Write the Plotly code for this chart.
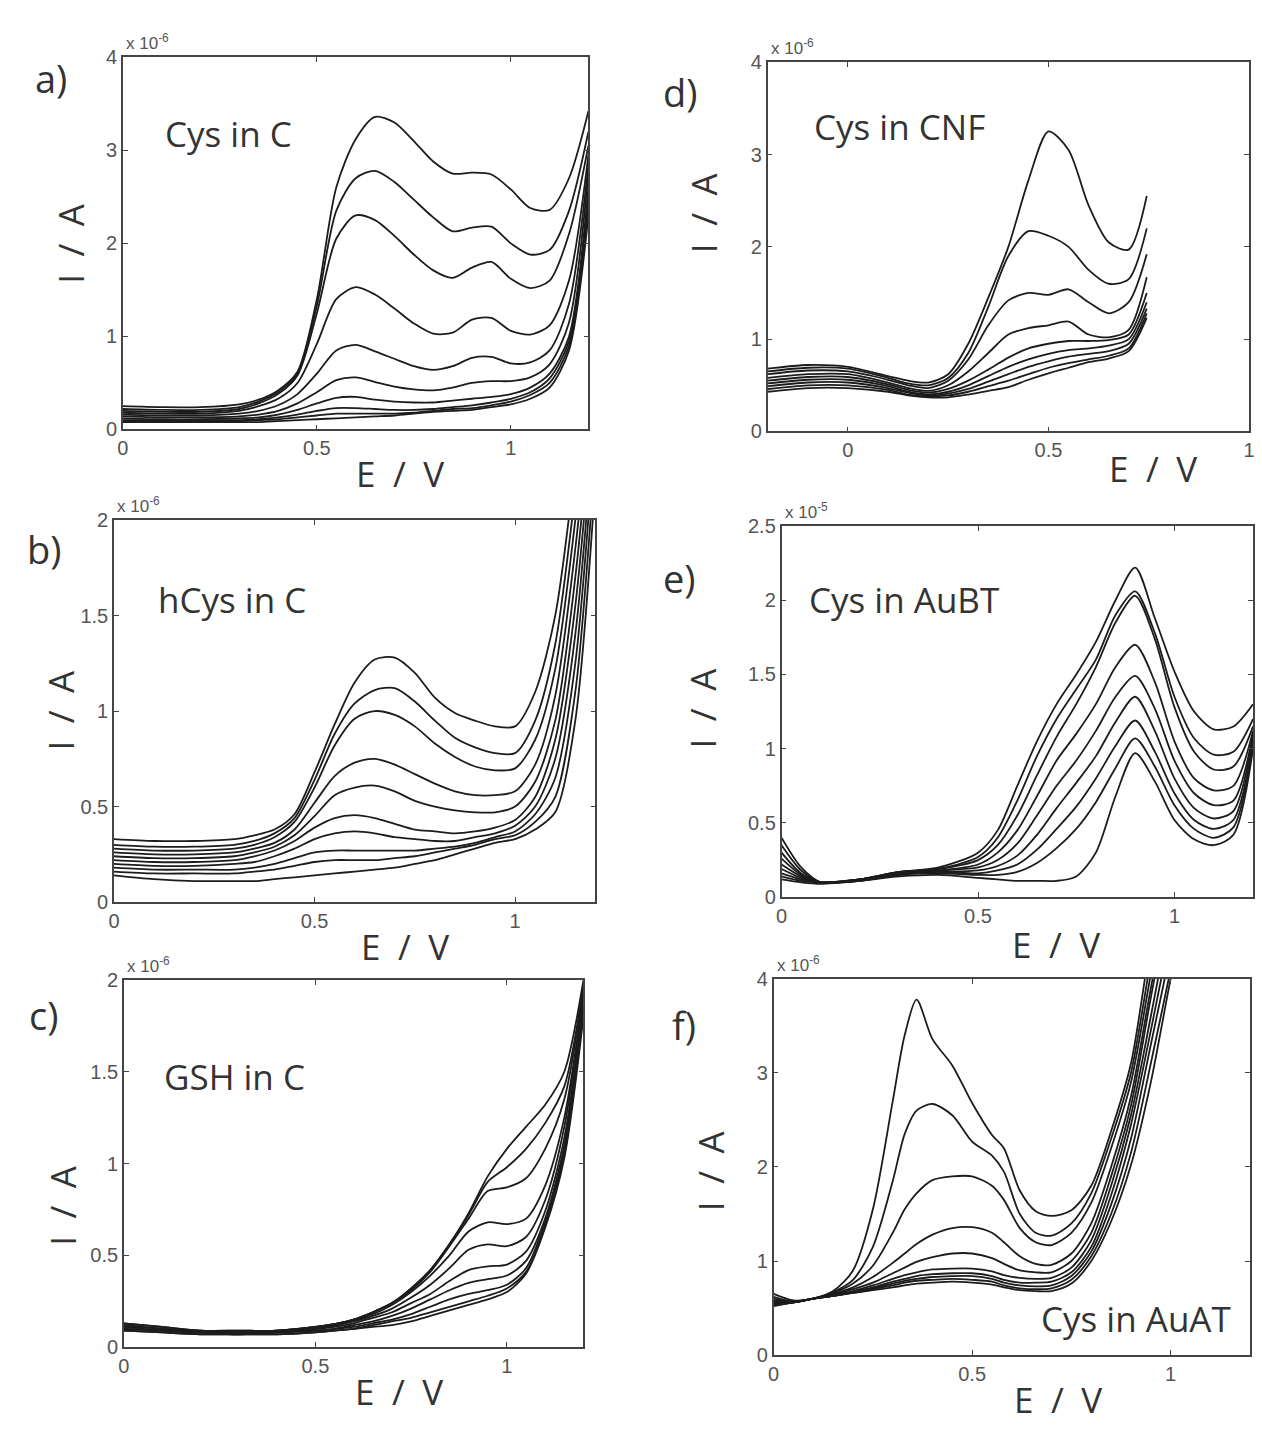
import plotly.graph_objects as go

W, H = 1262, 1433

# ---------------- data (currents in units of the axis multiplier) ----------------
# Panel a: Cys in C  (x 1e-6 A)
E_A = [0, 0.1, 0.2, 0.3, 0.35, 0.4, 0.45, 0.5, 0.55, 0.6, 0.65, 0.7, 0.75, 0.8, 0.85, 0.9, 0.95, 1.0, 1.05, 1.1, 1.15, 1.2]
CURVES_A = [
    [0.25, 0.24, 0.24, 0.27, 0.32, 0.42, 0.62, 1.40, 2.60, 3.12, 3.36, 3.30, 3.10, 2.88, 2.75, 2.76, 2.74, 2.58, 2.38, 2.36, 2.70, 3.42],
    [0.22, 0.21, 0.21, 0.24, 0.30, 0.40, 0.60, 1.33, 2.35, 2.70, 2.78, 2.66, 2.47, 2.28, 2.13, 2.17, 2.18, 2.00, 1.88, 1.93, 2.35, 3.20],
    [0.20, 0.19, 0.19, 0.22, 0.28, 0.38, 0.58, 1.25, 2.05, 2.30, 2.25, 2.08, 1.88, 1.71, 1.63, 1.74, 1.80, 1.62, 1.52, 1.60, 2.10, 3.05],
    [0.18, 0.17, 0.17, 0.20, 0.25, 0.33, 0.50, 0.92, 1.40, 1.53, 1.45, 1.30, 1.14, 1.03, 1.04, 1.18, 1.20, 1.06, 1.02, 1.12, 1.60, 2.95],
    [0.16, 0.15, 0.15, 0.17, 0.20, 0.26, 0.38, 0.60, 0.85, 0.91, 0.84, 0.76, 0.68, 0.64, 0.68, 0.77, 0.78, 0.71, 0.72, 0.85, 1.35, 2.85],
    [0.14, 0.13, 0.13, 0.14, 0.16, 0.20, 0.28, 0.40, 0.53, 0.56, 0.51, 0.46, 0.43, 0.42, 0.45, 0.50, 0.52, 0.52, 0.56, 0.70, 1.15, 2.75],
    [0.12, 0.11, 0.11, 0.12, 0.13, 0.16, 0.21, 0.28, 0.34, 0.35, 0.32, 0.30, 0.29, 0.29, 0.31, 0.33, 0.35, 0.38, 0.45, 0.60, 1.00, 2.60],
    [0.10, 0.10, 0.10, 0.10, 0.11, 0.13, 0.16, 0.20, 0.23, 0.23, 0.22, 0.21, 0.21, 0.22, 0.24, 0.26, 0.29, 0.33, 0.40, 0.55, 0.95, 2.50],
    [0.09, 0.09, 0.09, 0.09, 0.10, 0.11, 0.13, 0.15, 0.17, 0.17, 0.17, 0.17, 0.18, 0.20, 0.22, 0.23, 0.26, 0.30, 0.37, 0.50, 0.90, 2.40],
    [0.08, 0.08, 0.08, 0.08, 0.08, 0.09, 0.10, 0.11, 0.12, 0.13, 0.14, 0.15, 0.17, 0.19, 0.20, 0.21, 0.24, 0.27, 0.33, 0.45, 0.85, 2.30],
]

# Panel b: hCys in C  (x 1e-6 A)
E_B = [0, 0.1, 0.2, 0.3, 0.35, 0.4, 0.45, 0.5, 0.55, 0.6, 0.65, 0.7, 0.75, 0.8, 0.85, 0.9, 0.95, 1.0, 1.05, 1.1, 1.15, 1.2]
CURVES_B = [
    [0.33, 0.32, 0.32, 0.33, 0.35, 0.38, 0.46, 0.68, 0.93, 1.15, 1.27, 1.28, 1.20, 1.07, 0.99, 0.95, 0.92, 0.92, 1.10, 1.50, 2.30, 3.40],
    [0.30, 0.29, 0.29, 0.30, 0.32, 0.36, 0.44, 0.64, 0.88, 1.04, 1.11, 1.12, 1.05, 0.95, 0.86, 0.81, 0.78, 0.78, 0.95, 1.35, 2.15, 3.20],
    [0.28, 0.27, 0.27, 0.28, 0.30, 0.34, 0.42, 0.60, 0.82, 0.96, 1.00, 0.98, 0.92, 0.83, 0.76, 0.71, 0.69, 0.70, 0.85, 1.22, 2.00, 3.00],
    [0.26, 0.25, 0.25, 0.26, 0.28, 0.31, 0.38, 0.52, 0.66, 0.73, 0.75, 0.72, 0.67, 0.62, 0.58, 0.56, 0.56, 0.58, 0.72, 1.08, 1.85, 2.90],
    [0.24, 0.23, 0.23, 0.24, 0.26, 0.29, 0.35, 0.45, 0.56, 0.60, 0.61, 0.58, 0.53, 0.50, 0.48, 0.47, 0.47, 0.50, 0.63, 0.95, 1.70, 2.80],
    [0.22, 0.21, 0.21, 0.22, 0.24, 0.27, 0.32, 0.39, 0.44, 0.455, 0.44, 0.41, 0.38, 0.37, 0.36, 0.37, 0.39, 0.43, 0.55, 0.85, 1.55, 2.70],
    [0.20, 0.19, 0.19, 0.20, 0.21, 0.24, 0.28, 0.33, 0.36, 0.37, 0.36, 0.34, 0.33, 0.32, 0.32, 0.34, 0.36, 0.40, 0.50, 0.75, 1.40, 2.60],
    [0.18, 0.17, 0.17, 0.17, 0.18, 0.20, 0.23, 0.26, 0.27, 0.27, 0.27, 0.27, 0.27, 0.28, 0.29, 0.31, 0.34, 0.37, 0.46, 0.65, 1.25, 2.50],
    [0.16, 0.15, 0.15, 0.15, 0.16, 0.17, 0.19, 0.21, 0.22, 0.22, 0.22, 0.23, 0.24, 0.26, 0.28, 0.30, 0.33, 0.35, 0.42, 0.55, 1.10, 2.35],
    [0.14, 0.12, 0.11, 0.11, 0.11, 0.12, 0.13, 0.14, 0.15, 0.16, 0.17, 0.18, 0.20, 0.22, 0.25, 0.28, 0.31, 0.33, 0.38, 0.47, 0.95, 2.20],
]

# Panel c: GSH in C  (x 1e-6 A)
E_C = [0, 0.1, 0.2, 0.3, 0.4, 0.5, 0.55, 0.6, 0.65, 0.7, 0.75, 0.8, 0.85, 0.9, 0.95, 1.0, 1.05, 1.1, 1.15, 1.2]
CURVES_C = [
    [0.13, 0.11, 0.09, 0.09, 0.09, 0.11, 0.125, 0.15, 0.19, 0.24, 0.32, 0.42, 0.56, 0.73, 0.93, 1.08, 1.20, 1.32, 1.50, 2.00],
    [0.13, 0.11, 0.09, 0.09, 0.09, 0.11, 0.125, 0.15, 0.19, 0.24, 0.32, 0.42, 0.56, 0.72, 0.90, 0.98, 1.08, 1.22, 1.42, 1.97],
    [0.12, 0.10, 0.09, 0.08, 0.09, 0.11, 0.125, 0.15, 0.19, 0.24, 0.31, 0.41, 0.55, 0.70, 0.85, 0.87, 0.92, 1.08, 1.35, 1.95],
    [0.12, 0.10, 0.08, 0.08, 0.09, 0.10, 0.12, 0.145, 0.18, 0.23, 0.30, 0.39, 0.50, 0.63, 0.68, 0.67, 0.70, 0.88, 1.25, 1.92],
    [0.11, 0.10, 0.08, 0.08, 0.08, 0.10, 0.115, 0.14, 0.17, 0.21, 0.27, 0.34, 0.43, 0.53, 0.56, 0.55, 0.60, 0.80, 1.20, 1.90],
    [0.11, 0.09, 0.08, 0.08, 0.08, 0.10, 0.11, 0.13, 0.16, 0.19, 0.24, 0.29, 0.36, 0.42, 0.44, 0.45, 0.52, 0.74, 1.14, 1.88],
    [0.10, 0.09, 0.08, 0.07, 0.08, 0.09, 0.10, 0.12, 0.14, 0.17, 0.21, 0.26, 0.31, 0.35, 0.37, 0.39, 0.47, 0.70, 1.10, 1.86],
    [0.10, 0.09, 0.08, 0.07, 0.08, 0.09, 0.10, 0.11, 0.13, 0.15, 0.18, 0.22, 0.26, 0.29, 0.31, 0.34, 0.43, 0.68, 1.07, 1.85],
    [0.09, 0.08, 0.07, 0.07, 0.07, 0.08, 0.09, 0.10, 0.12, 0.14, 0.16, 0.19, 0.22, 0.25, 0.28, 0.32, 0.41, 0.66, 1.05, 1.83],
    [0.09, 0.08, 0.07, 0.07, 0.07, 0.08, 0.09, 0.10, 0.11, 0.12, 0.14, 0.17, 0.20, 0.23, 0.26, 0.30, 0.40, 0.65, 1.03, 1.80],
]

# Panel d: Cys in CNF  (x 1e-6 A)
E_D = [-0.2, -0.1, 0.0, 0.1, 0.15, 0.2, 0.25, 0.3, 0.35, 0.4, 0.45, 0.5, 0.55, 0.6, 0.65, 0.7, 0.745]
CURVES_D = [
    [0.68, 0.72, 0.70, 0.60, 0.55, 0.53, 0.62, 0.95, 1.45, 2.00, 2.72, 3.25, 3.05, 2.45, 2.05, 1.97, 2.55],
    [0.65, 0.69, 0.68, 0.58, 0.52, 0.50, 0.58, 0.85, 1.35, 1.90, 2.17, 2.12, 2.00, 1.75, 1.60, 1.65, 2.20],
    [0.62, 0.66, 0.65, 0.56, 0.50, 0.47, 0.55, 0.78, 1.15, 1.42, 1.50, 1.48, 1.54, 1.40, 1.28, 1.40, 1.92],
    [0.58, 0.62, 0.62, 0.53, 0.47, 0.44, 0.50, 0.65, 0.85, 1.05, 1.12, 1.15, 1.19, 1.05, 1.02, 1.10, 1.67],
    [0.55, 0.59, 0.59, 0.51, 0.45, 0.42, 0.46, 0.55, 0.67, 0.80, 0.90, 0.95, 0.98, 0.98, 0.99, 1.05, 1.50],
    [0.52, 0.56, 0.56, 0.49, 0.43, 0.40, 0.43, 0.50, 0.60, 0.70, 0.78, 0.84, 0.88, 0.90, 0.93, 1.00, 1.40],
    [0.49, 0.53, 0.53, 0.47, 0.42, 0.39, 0.41, 0.46, 0.54, 0.62, 0.70, 0.76, 0.81, 0.84, 0.87, 0.95, 1.33],
    [0.46, 0.50, 0.50, 0.45, 0.40, 0.38, 0.39, 0.43, 0.49, 0.55, 0.62, 0.69, 0.74, 0.78, 0.82, 0.90, 1.28],
    [0.43, 0.47, 0.47, 0.43, 0.39, 0.37, 0.37, 0.40, 0.44, 0.48, 0.56, 0.63, 0.69, 0.75, 0.79, 0.87, 1.23],
]

# Panel e: Cys in AuBT  (x 1e-5 A)
E_E = [0, 0.05, 0.1, 0.2, 0.3, 0.4, 0.5, 0.55, 0.6, 0.65, 0.7, 0.75, 0.8, 0.85, 0.9, 0.95, 1.0, 1.05, 1.1, 1.15, 1.2]
CURVES_E = [
    [0.40, 0.20, 0.10, 0.12, 0.17, 0.20, 0.30, 0.45, 0.75, 1.05, 1.30, 1.50, 1.72, 2.00, 2.22, 1.88, 1.52, 1.25, 1.13, 1.15, 1.30],
    [0.35, 0.18, 0.10, 0.12, 0.17, 0.19, 0.27, 0.40, 0.65, 0.95, 1.20, 1.40, 1.60, 1.90, 2.06, 1.78, 1.35, 1.07, 0.96, 0.98, 1.20],
    [0.30, 0.16, 0.10, 0.12, 0.17, 0.19, 0.25, 0.35, 0.55, 0.82, 1.08, 1.30, 1.55, 1.85, 2.03, 1.74, 1.28, 0.98, 0.86, 0.88, 1.15],
    [0.26, 0.15, 0.10, 0.12, 0.16, 0.18, 0.22, 0.30, 0.45, 0.68, 0.92, 1.10, 1.30, 1.55, 1.70, 1.45, 1.05, 0.80, 0.72, 0.75, 1.12],
    [0.22, 0.14, 0.10, 0.12, 0.16, 0.18, 0.20, 0.25, 0.36, 0.55, 0.75, 0.92, 1.12, 1.35, 1.49, 1.27, 0.92, 0.70, 0.62, 0.65, 1.10],
    [0.19, 0.13, 0.10, 0.12, 0.16, 0.17, 0.18, 0.21, 0.28, 0.42, 0.60, 0.77, 0.95, 1.18, 1.35, 1.12, 0.80, 0.60, 0.53, 0.58, 1.08],
    [0.16, 0.12, 0.10, 0.11, 0.15, 0.17, 0.16, 0.18, 0.22, 0.32, 0.46, 0.61, 0.80, 1.02, 1.19, 0.98, 0.70, 0.52, 0.46, 0.52, 1.05],
    [0.14, 0.11, 0.10, 0.11, 0.15, 0.16, 0.15, 0.15, 0.17, 0.23, 0.33, 0.46, 0.64, 0.87, 1.07, 0.88, 0.62, 0.46, 0.40, 0.47, 1.03],
    [0.12, 0.10, 0.09, 0.11, 0.14, 0.15, 0.13, 0.12, 0.11, 0.11, 0.11, 0.14, 0.30, 0.68, 0.97, 0.78, 0.52, 0.39, 0.35, 0.42, 1.00],
]

# Panel f: Cys in AuAT  (x 1e-6 A)
E_F = [0, 0.05, 0.1, 0.15, 0.2, 0.25, 0.3, 0.33, 0.36, 0.4, 0.45, 0.5, 0.55, 0.58, 0.62, 0.66, 0.7, 0.75, 0.8, 0.85, 0.9, 0.95, 1.0, 1.05]
CURVES_F = [
    [0.65, 0.58, 0.60, 0.68, 0.90, 1.55, 2.70, 3.40, 3.78, 3.36, 3.08, 2.68, 2.34, 2.20, 1.75, 1.53, 1.48, 1.54, 1.80, 2.38, 3.10, 4.40, 5.50, 6.50],
    [0.62, 0.57, 0.60, 0.67, 0.80, 1.15, 1.85, 2.35, 2.60, 2.67, 2.55, 2.27, 2.12, 1.95, 1.50, 1.30, 1.27, 1.40, 1.72, 2.30, 3.00, 4.20, 5.30, 6.30],
    [0.60, 0.57, 0.60, 0.66, 0.76, 0.95, 1.30, 1.55, 1.72, 1.86, 1.90, 1.90, 1.80, 1.65, 1.35, 1.20, 1.17, 1.30, 1.62, 2.20, 2.90, 4.05, 5.20, 6.20],
    [0.58, 0.57, 0.60, 0.65, 0.72, 0.83, 0.98, 1.08, 1.18, 1.28, 1.35, 1.36, 1.30, 1.20, 1.05, 0.97, 0.96, 1.08, 1.40, 2.00, 2.75, 3.90, 5.00, 6.00],
    [0.57, 0.56, 0.60, 0.64, 0.70, 0.77, 0.87, 0.93, 0.99, 1.04, 1.08, 1.08, 1.03, 0.97, 0.90, 0.88, 0.88, 1.00, 1.30, 1.90, 2.65, 3.80, 4.90, 5.90],
    [0.56, 0.56, 0.60, 0.63, 0.68, 0.74, 0.81, 0.85, 0.88, 0.91, 0.92, 0.92, 0.89, 0.85, 0.82, 0.81, 0.82, 0.93, 1.22, 1.80, 2.55, 3.60, 4.70, 5.70],
    [0.55, 0.56, 0.60, 0.63, 0.67, 0.72, 0.78, 0.81, 0.84, 0.86, 0.87, 0.87, 0.84, 0.80, 0.77, 0.77, 0.78, 0.88, 1.15, 1.70, 2.45, 3.45, 4.50, 5.50],
    [0.54, 0.56, 0.60, 0.63, 0.67, 0.71, 0.76, 0.79, 0.81, 0.83, 0.84, 0.84, 0.81, 0.77, 0.74, 0.73, 0.74, 0.84, 1.10, 1.60, 2.30, 3.30, 4.30, 5.30],
    [0.53, 0.56, 0.60, 0.63, 0.66, 0.70, 0.74, 0.77, 0.79, 0.80, 0.81, 0.80, 0.78, 0.74, 0.71, 0.70, 0.71, 0.80, 1.05, 1.50, 2.15, 3.10, 4.10, 5.10],
    [0.52, 0.56, 0.60, 0.63, 0.66, 0.69, 0.72, 0.74, 0.76, 0.77, 0.78, 0.77, 0.75, 0.72, 0.69, 0.68, 0.68, 0.76, 1.00, 1.42, 2.02, 2.90, 4.00, 5.00],
]

# tick values
XT_STD = [0, 0.5, 1]
YT_A = [0, 1, 2, 3, 4]
YT_B = [0, 0.5, 1, 1.5, 2]
YT_C = [0, 0.5, 1, 1.5, 2]
YT_D = [0, 1, 2, 3, 4]
YT_E = [0, 0.5, 1, 1.5, 2, 2.5]
YT_F = [0, 1, 2, 3, 4]

LETTERS = ["a)", "b)", "c)", "d)", "e)", "f)"]
LABELS = ["Cys in C", "hCys in C", "GSH in C", "Cys in CNF", "Cys in AuBT", "Cys in AuAT"]
EXPONENTS = ["-6", "-6", "-6", "-6", "-5", "-6"]
X_TITLE = "E\u2002/\u2002V"
Y_TITLE = "I\u2002/\u2002A"

# ---------------- layout geometry (pixels) ----------------
panels = [
    dict(E=E_A, C=CURVES_A, box=(118, 588, 47, 425), xr=[0, 1.2], yr=[0, 4.0001], yt=YT_A,
         letter=(45, 68), label=(225, 124), xt_pos=(398, 470), yt_pos=(65, 236)),
    dict(E=E_B, C=CURVES_B, box=(109, 595, 517, 905), xr=[0, 1.2], yr=[0, 2.0001], yt=YT_B,
         letter=(38, 546), label=(228, 598), xt_pos=(403, 950), yt_pos=(55, 710)),
    dict(E=E_C, C=CURVES_C, box=(119, 583, 984, 1357), xr=[0, 1.2], yr=[0, 2.0001], yt=YT_C,
         letter=(38, 1020), label=(231, 1082), xt_pos=(397, 1402), yt_pos=(57, 1213)),
    dict(E=E_D, C=CURVES_D, box=(769, 1255, 52, 427), xr=[-0.2, 1.0001], yr=[0, 4.0001], yt=YT_D,
         letter=(680, 82), label=(902, 117), xt_pos=(1158, 465), yt_pos=(705, 205)),
    dict(E=E_E, C=CURVES_E, box=(783, 1259, 523, 900), xr=[0, 1.2], yr=[0, 2.5001], yt=YT_E,
         letter=(680, 576), label=(907, 598), xt_pos=(1060, 948), yt_pos=(703, 708)),
    dict(E=E_F, C=CURVES_F, box=(775, 1256, 983, 1365), xr=[0, 1.2], yr=[0, 4.0001], yt=YT_F,
         letter=(685, 1030), label=(1141, 1328), xt_pos=(1062, 1410), yt_pos=(712, 1178)),
]

def px(x):
    return x / W

def py(y):
    return 1 - y / H

fig = go.Figure()
annotations = []
TEXT_FONT = "Open Sans"
TICK_FONT = dict(family="Liberation Sans", size=20, color="#555555")

def text_ann(text, x, y, size, angle=0):
    return dict(text=text, x=px(x), y=py(y), xref="paper", yref="paper",
                xanchor="center", yanchor="middle", showarrow=False, textangle=angle,
                font=dict(family=TEXT_FONT, size=size, color="#333333"))

for i, p in enumerate(panels):
    n = "" if i == 0 else str(i + 1)
    x0, x1, y0, y1 = p["box"]
    for curve in p["C"]:
        fig.add_trace(go.Scatter(
            x=p["E"], y=curve, mode="lines", xaxis="x" + n, yaxis="y" + n,
            line=dict(color="#1c1c1c", width=1.8, shape="spline", smoothing=0.8),
            showlegend=False, hoverinfo="skip"))
    common = dict(ticks="inside", ticklen=5, tickwidth=1, tickcolor="#444444",
                  mirror="allticks", showline=True, linecolor="#444444", linewidth=1.5,
                  showgrid=False, zeroline=False, tickfont=TICK_FONT)
    fig.layout["xaxis" + n] = dict(domain=[px(x0), px(x1)], range=p["xr"], tickvals=XT_STD,
                                   anchor="y" + n, **common)
    fig.layout["yaxis" + n] = dict(domain=[py(y1), py(y0)], range=p["yr"], tickvals=p["yt"],
                                   anchor="x" + n, **common)
    annotations.append(text_ann(LETTERS[i], p["letter"][0], p["letter"][1], 38))
    annotations.append(text_ann(LABELS[i], p["label"][0], p["label"][1], 35))
    annotations.append(text_ann(X_TITLE, p["xt_pos"][0], p["xt_pos"][1], 35))
    annotations.append(text_ann(Y_TITLE, p["yt_pos"][0], p["yt_pos"][1], 35, angle=-90))
    annotations.append(dict(text="x 10<sup>" + EXPONENTS[i] + "</sup>",
                            x=px(x0 + 1), y=py(y0 - 2), xref="paper", yref="paper",
                            xanchor="left", yanchor="bottom", showarrow=False,
                            font=dict(family="Liberation Sans", size=17, color="#555555")))

fig.update_layout(width=W, height=H, margin=dict(l=0, r=0, t=0, b=0),
                  paper_bgcolor="white", plot_bgcolor="white",
                  annotations=annotations, showlegend=False)

fig.write_html("out.html", config={"displayModeBar": False},
               post_script="document.body.style.margin='0';document.body.style.padding='0';")
